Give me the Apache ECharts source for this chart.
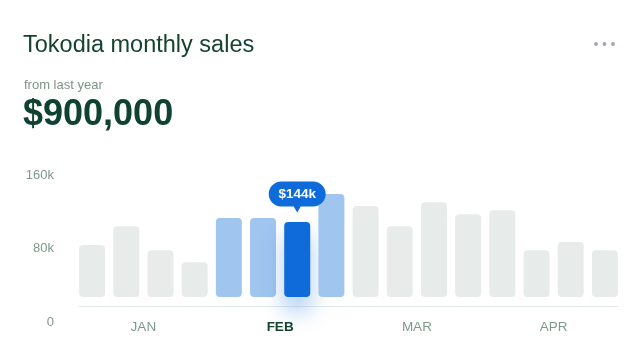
<!DOCTYPE html>
<html>
<head>
<meta charset="utf-8">
<script src="https://cdn.jsdelivr.net/npm/echarts@6/dist/echarts.min.js"></script>
<style>
  html, body { margin: 0; padding: 0; background: #ffffff; }
  #chart { width: 642px; height: 362px; }
</style>
</head>
<body>
<div id="chart"></div>
<script>
// ---- data ----
var weeks = ['Jan W1','Jan W2','Jan W3','Jan W4','Feb W1','Feb W2','Feb W3','Feb W4',
             'Mar W1','Mar W2','Mar W3','Mar W4','Apr W1','Apr W2','Apr W3','Apr W4'];
var sales = [100, 136, 90, 67, 152, 152, 144, 198, 175, 136, 182, 159, 167, 90, 106, 90]; // in $k
var months = ['JAN', 'FEB', 'MAR', 'APR'];
var highlightMonth = 'FEB';
var highlightWeeks = [4, 5, 7];   // weeks of the highlighted month
var selectedWeek = 6;             // week shown with the value bubble
var yTicks = [0, 80, 160];        // tick labels in $k
var titleText = 'Tokodia monthly sales';
var subText = 'from last year';
var totalText = '$900,000';

// ---- styles ----
var FONT = 'Liberation Sans';
var GREEN_DARK = '#15432f';
var AXIS_TXT = '#7d9a8c';
var GREY_BAR = '#e7ecea';
var LIGHT_BLUE = '#a0c5ef';
var BLUE = '#0e6bd9';

var barData = sales.map(function (v, i) {
  var style = { color: GREY_BAR, borderRadius: 4 };
  if (highlightWeeks.indexOf(i) >= 0) style.color = LIGHT_BLUE;
  if (i === selectedWeek) {
    style.color = BLUE;
    style.shadowColor = 'rgba(14,107,217,0.35)';
    style.shadowBlur = 22;
    style.shadowOffsetY = 14;
  }
  return { value: v, itemStyle: style };
});

var monthData = months.map(function (m) {
  if (m === highlightMonth) {
    return { value: m, textStyle: { fontWeight: 'bold', color: GREEN_DARK } };
  }
  return m;
});

var bubblePath = 'path://M12.5,0 L44.5,0 C51.4,0 57,5.6 57,12.5 C57,19.4 51.4,25 44.5,25 L32,25 L28.5,31 L25,25 L12.5,25 C5.6,25 0,19.4 0,12.5 C0,5.6 5.6,0 12.5,0 Z';

var chart = echarts.init(document.getElementById('chart'), null, { renderer: 'canvas' });

var option = {
  animation: false,
  backgroundColor: '#ffffff',
  textStyle: { fontFamily: FONT },
  title: [
    { text: titleText, left: 23, top: 34, padding: 0,
      textStyle: { fontFamily: FONT, fontSize: 23.5, fontWeight: 'normal', color: GREEN_DARK, lineHeight: 23 } },
    { text: subText, left: 24, top: 79, padding: 0,
      textStyle: { fontFamily: FONT, fontSize: 13, fontWeight: 'normal', color: '#7d9488', lineHeight: 13 } },
    { text: totalText, left: 23, top: 97, padding: 0,
      textStyle: { fontFamily: FONT, fontSize: 36, fontWeight: 'bold', color: '#0f4230', lineHeight: 36 } }
  ],
  graphic: [
    { type: 'circle', shape: { cx: 596, cy: 44, r: 1.9 }, style: { fill: '#a4a2b6' } },
    { type: 'circle', shape: { cx: 604.5, cy: 44, r: 1.9 }, style: { fill: '#a4a2b6' } },
    { type: 'circle', shape: { cx: 613, cy: 44, r: 1.9 }, style: { fill: '#a4a2b6' } }
  ],
  grid: [
    { left: 75, right: 20, top: 193, bottom: 65 },   // bars
    { left: 62, right: 20, top: 175, bottom: 40 },   // y labels
    { left: 79, right: 24, top: 305, height: 1 }     // baseline
  ],
  xAxis: [
    { type: 'category', gridIndex: 0, data: weeks, show: false },
    { type: 'category', gridIndex: 0, data: monthData, position: 'bottom',
      axisLine: { show: false }, axisTick: { show: false },
      axisLabel: { margin: 23, fontFamily: FONT, fontSize: 13.5, color: AXIS_TXT } },
    { type: 'category', gridIndex: 1, data: weeks, show: false },
    { type: 'category', gridIndex: 2, data: weeks, position: 'bottom',
      axisLine: { show: true, lineStyle: { color: '#e3e9e6', width: 1 } },
      axisTick: { show: false }, axisLabel: { show: false } }
  ],
  yAxis: [
    { type: 'value', gridIndex: 0, min: 0, max: 200, show: false },
    { type: 'value', gridIndex: 1, min: yTicks[0], max: yTicks[yTicks.length - 1],
      interval: yTicks[1] - yTicks[0],
      axisLine: { show: false }, axisTick: { show: false }, splitLine: { show: false },
      axisLabel: { margin: 8, fontFamily: FONT, fontSize: 13, color: AXIS_TXT,
        formatter: function (v) { return v === 0 ? '0' : v + 'k'; } } },
    { type: 'value', gridIndex: 2, show: false }
  ],
  series: [
    {
      type: 'bar',
      xAxisIndex: 0, yAxisIndex: 0,
      data: barData,
      barWidth: 26,
      silent: true,
      markPoint: {
        silent: true,
        symbol: bubblePath,
        symbolSize: [57, 31],
        symbolOffset: [0, -25],
        itemStyle: { color: BLUE },
        label: {
          show: true, position: 'inside', offset: [0, -3],
          fontFamily: FONT, fontSize: 13.5, fontWeight: 'bold', color: '#ffffff',
          formatter: function (p) { return '$' + p.value + 'k'; }
        },
        data: [{ coord: [weeks[selectedWeek], sales[selectedWeek]], value: sales[selectedWeek] }]
      }
    }
  ]
};

chart.setOption(option);
</script>
</body>
</html>
